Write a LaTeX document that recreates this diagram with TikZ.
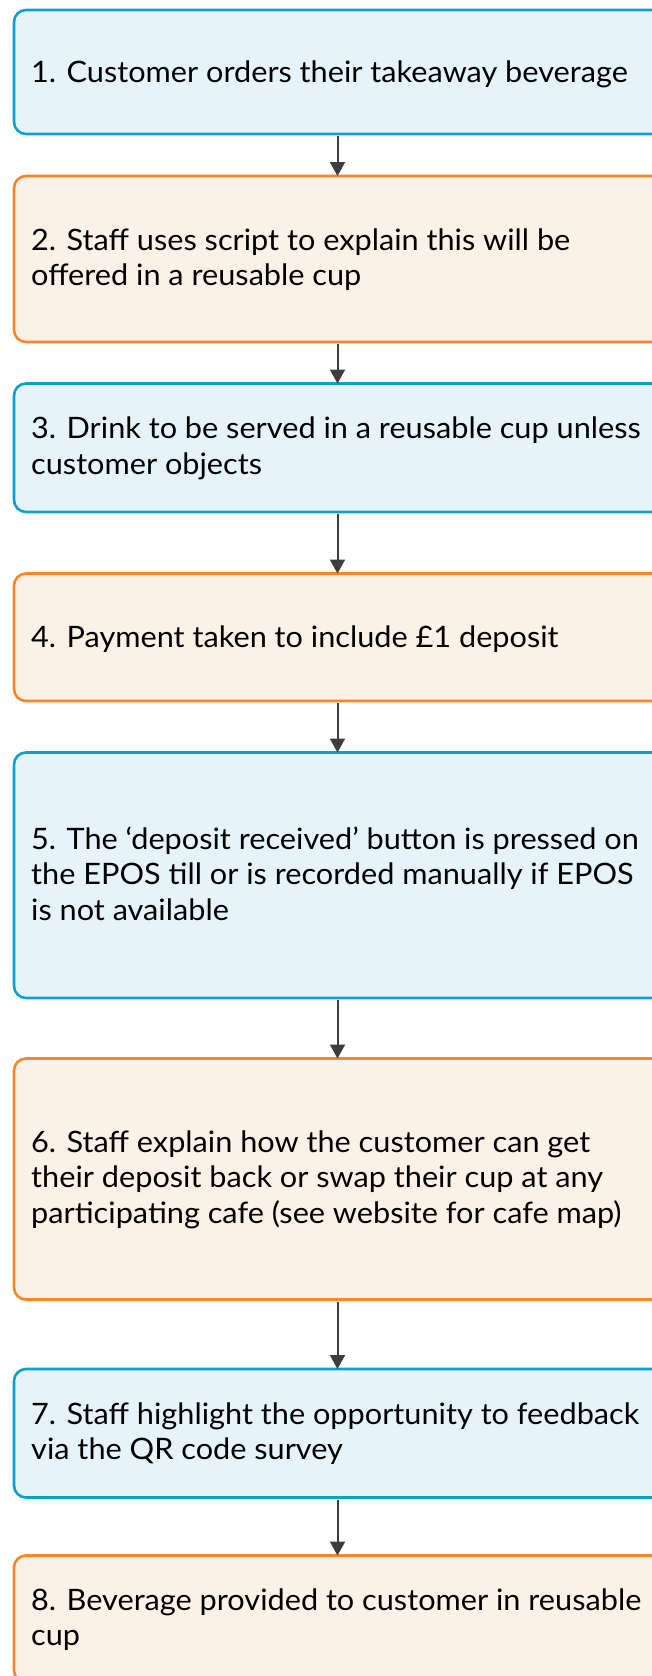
\documentclass[tikz,border=0pt]{standalone}
\usepackage{fontspec}
\setmainfont[FakeStretch=1.04]{Lato}
\usetikzlibrary{arrows.meta,calc}
\definecolor{bblue}{HTML}{0CA0CB}
\definecolor{fblue}{HTML}{E6F4FA}
\definecolor{borange}{HTML}{F5862B}
\definecolor{forange}{HTML}{FCF1E7}
\definecolor{arrowgray}{HTML}{3D3D3D}
\begin{document}
\begin{tikzpicture}[x=1pt,y=-1pt,
  box/.style={rectangle, rounded corners=12pt, line width=2.6pt, anchor=north west,
    minimum width=670pt, outer sep=0pt, inner sep=0pt},
  bluebox/.style={box, draw=bblue, fill=fblue},
  orangebox/.style={box, draw=borange, fill=forange},
  steplabel/.style={anchor=west, align=left, font=\fontsize{29.5}{35.5}\selectfont,
    inner sep=0pt, text=black, yshift=-3.4pt,
    execute at begin node={\strut}, execute at end node={\strut}},
  arr/.style={draw=arrowgray, line width=2pt, -{Triangle[length=14pt,width=15pt]},
    shorten <=2pt}
]
\useasboundingbox (0,0) rectangle (652,1676);
\clip (0,0) rectangle (652,1676);
\coordinate (ax) at (337.5,0);

\node[bluebox, minimum height=124pt] (b1) at (14,10) {};
\node[orangebox, minimum height=166pt] (b2) at (14,176) {};
\node[bluebox, minimum height=128.5pt] (b3) at (14,383.5) {};
\node[orangebox, minimum height=127.5pt] (b4) at (14,573.5) {};
\node[bluebox, minimum height=245.5pt] (b5) at (14,752.5) {};
\node[orangebox, minimum height=241pt] (b6) at (14,1058.5) {};
\node[bluebox, minimum height=128.5pt] (b7) at (14,1369) {};
\node[orangebox, minimum height=127pt] (b8) at (14,1555.5) {};

\node[steplabel] (t1) at (31,72) {1. Customer orders their takeaway beverage};
\node[steplabel] (t2) at (31,259) {2. Staff uses script to explain this will be\\offered in a reusable cup};
\node[steplabel] (t3) at (31,447.75) {3. Drink to be served in a reusable cup unless\\customer objects};
\node[steplabel] (t4) at (31,637.25) {4. Payment taken to include £1 deposit};
\node[steplabel] (t5) at (31,875.25) {5. The ‘deposit received’ button is pressed on\\the EPOS till or is recorded manually if EPOS\\is not available};
\node[steplabel] (t6) at (31,1179) {6. Staff explain how the customer can get\\their deposit back or swap their cup at any\\participating cafe (see website for cafe map)};
\node[steplabel] (t7) at (31,1433.25) {7. Staff highlight the opportunity to feedback\\via the QR code survey};
\node[steplabel] (t8) at (31,1619) {8. Beverage provided to customer in reusable\\cup};

\draw[arr] (b1.south -| ax) -- (b2.north -| ax);
\draw[arr] (b2.south -| ax) -- (b3.north -| ax);
\draw[arr] (b3.south -| ax) -- (b4.north -| ax);
\draw[arr] (b4.south -| ax) -- (b5.north -| ax);
\draw[arr] (b5.south -| ax) -- (b6.north -| ax);
\draw[arr] (b6.south -| ax) -- (b7.north -| ax);
\draw[arr] (b7.south -| ax) -- (b8.north -| ax);
\end{tikzpicture}
\end{document}
